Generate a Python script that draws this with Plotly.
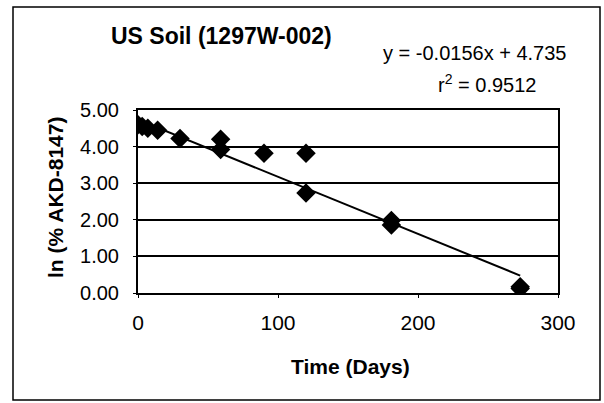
import plotly.graph_objects as go

days = [0, 3, 7, 14, 30, 59, 59, 90, 120, 120, 181, 181, 273, 273]
ln_pct = [4.60, 4.55, 4.50, 4.45, 4.22, 4.20, 3.92, 3.82, 3.82, 2.73, 1.98, 1.86, 0.17, 0.12]
slope = -0.0156
intercept = 4.735
r2 = 0.9512
trend_x = [0, 273]
trend_y = [slope * x + intercept for x in trend_x]
x_ticks = [0, 100, 200, 300]
y_ticks = [0, 1, 2, 3, 4, 5]

FONT = "Arial, Liberation Sans, sans-serif"
W, H = 604, 403
L, R, T, B = 138, 558, 110, 293


def px(x):
    return (x - L) / (R - L)


def py(y):
    return (B - y) / (B - T)


fig = go.Figure()
fig.add_trace(go.Scatter(x=trend_x, y=trend_y, mode="lines",
                         line=dict(color="black", width=2), showlegend=False))
fig.add_trace(go.Scatter(x=days, y=ln_pct, mode="markers",
                         marker=dict(symbol="diamond", size=15, color="black"),
                         showlegend=False))

fig.update_layout(
    width=W, height=H,
    margin=dict(l=L, r=W - R, t=T, b=H - B),
    paper_bgcolor="white", plot_bgcolor="white",
    font=dict(family=FONT, size=20, color="black"),
    xaxis=dict(range=[0, 300], tickvals=x_ticks, showgrid=False, zeroline=False,
               showline=True, linecolor="black", linewidth=2, mirror=True,
               ticks="outside", ticklen=3, tickcolor="black",
               tickfont=dict(size=21), ticklabelstandoff=7),
    yaxis=dict(range=[0, 5], tickvals=y_ticks, tickformat=".2f",
               showgrid=True, gridcolor="black", gridwidth=1.5, zeroline=False,
               showline=True, linecolor="black", linewidth=2, mirror=True,
               ticks="outside", ticklen=3, tickcolor="black",
               tickfont=dict(size=20), ticklabelstandoff=10),
)

fig.add_annotation(text="<b>US Soil (1297W-002)</b>", xref="paper", yref="paper",
                   x=px(221), y=py(36), showarrow=False, font=dict(size=23),
                   xanchor="center", yanchor="middle")
fig.add_annotation(text=f"y = {slope}x + {intercept}", xref="paper", yref="paper",
                   x=px(474), y=py(53), showarrow=False, font=dict(size=20),
                   xanchor="center", yanchor="middle")
fig.add_annotation(text=f"r<sup>2</sup> = {r2}", xref="paper", yref="paper",
                   x=px(487), y=py(83), showarrow=False, font=dict(size=20),
                   xanchor="center", yanchor="middle")
fig.add_annotation(text="<b>Time (Days)</b>", xref="paper", yref="paper",
                   x=px(350), y=py(366), showarrow=False, font=dict(size=21),
                   xanchor="center", yanchor="middle")
fig.add_annotation(text="<b>ln (% AKD-8147)</b>", xref="paper", yref="paper",
                   x=px(55), y=py(198), showarrow=False, font=dict(size=21),
                   textangle=-90, xanchor="center", yanchor="middle")

fig.add_shape(type="rect", xref="paper", yref="paper",
              x0=px(13), x1=px(600), y0=py(400), y1=py(7),
              line=dict(color="black", width=1.5), layer="below")

fig.write_html("out.html")
